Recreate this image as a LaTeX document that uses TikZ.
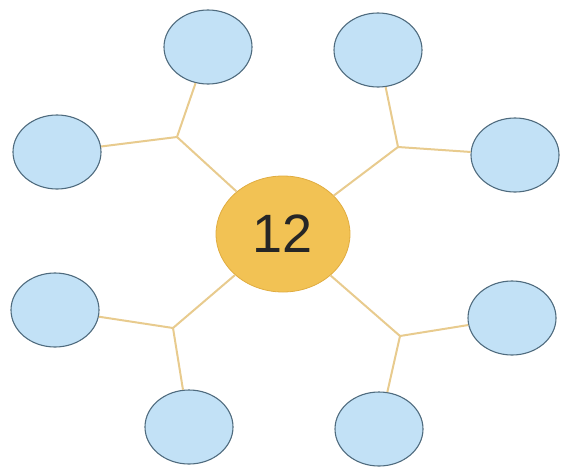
\documentclass[tikz,border=0pt]{standalone}
\usepackage{fontspec}
\setmainfont{Liberation Sans}
\usetikzlibrary{shapes.geometric}
\definecolor{bluefill}{HTML}{C2E1F6}
\definecolor{blueedge}{HTML}{4F6B7E}
\definecolor{orfill}{HTML}{F2C254}
\definecolor{oredge}{HTML}{E0AC40}
\definecolor{linecol}{HTML}{E8CB8E}
\tikzset{
  leaf/.style={ellipse, draw=blueedge, line width=1.1pt, fill=bluefill, minimum width=88pt, minimum height=74pt, inner sep=0pt},
  hub/.style={ellipse, draw=oredge, line width=0.8pt, fill=orfill, minimum width=134pt, minimum height=116pt, inner sep=0pt, font=\fontsize{54}{54}\selectfont, text=black!85},
  link/.style={draw=linecol, line width=2pt}
}
\begin{document}
\begin{tikzpicture}[x=1pt,y=-1pt]
\useasboundingbox (0,0) rectangle (561,466);
\node[hub] (c) at (283,234) {\raisebox{-4pt}{12}};
\node[leaf] (a1) at (208,47) {};
\node[leaf] (a2) at (57,152) {};
\node[leaf] (b1) at (378,50) {};
\node[leaf] (b2) at (515,155) {};
\node[leaf] (d1) at (55,310) {};
\node[leaf] (d2) at (189,427) {};
\node[leaf] (e1) at (512,318) {};
\node[leaf] (e2) at (379,429) {};
\coordinate (ja) at (177,137);
\coordinate (jb) at (398,147);
\coordinate (jd) at (173,328);
\coordinate (je) at (400,336);
\draw[link] (c) -- (ja);
\draw[link] (ja) -- (a1);
\draw[link] (ja) -- (a2);
\draw[link] (c) -- (jb);
\draw[link] (jb) -- (b1);
\draw[link] (jb) -- (b2);
\draw[link] (c) -- (jd);
\draw[link] (jd) -- (d1);
\draw[link] (jd) -- (d2);
\draw[link] (c) -- (je);
\draw[link] (je) -- (e1);
\draw[link] (je) -- (e2);
\end{tikzpicture}
\end{document}
